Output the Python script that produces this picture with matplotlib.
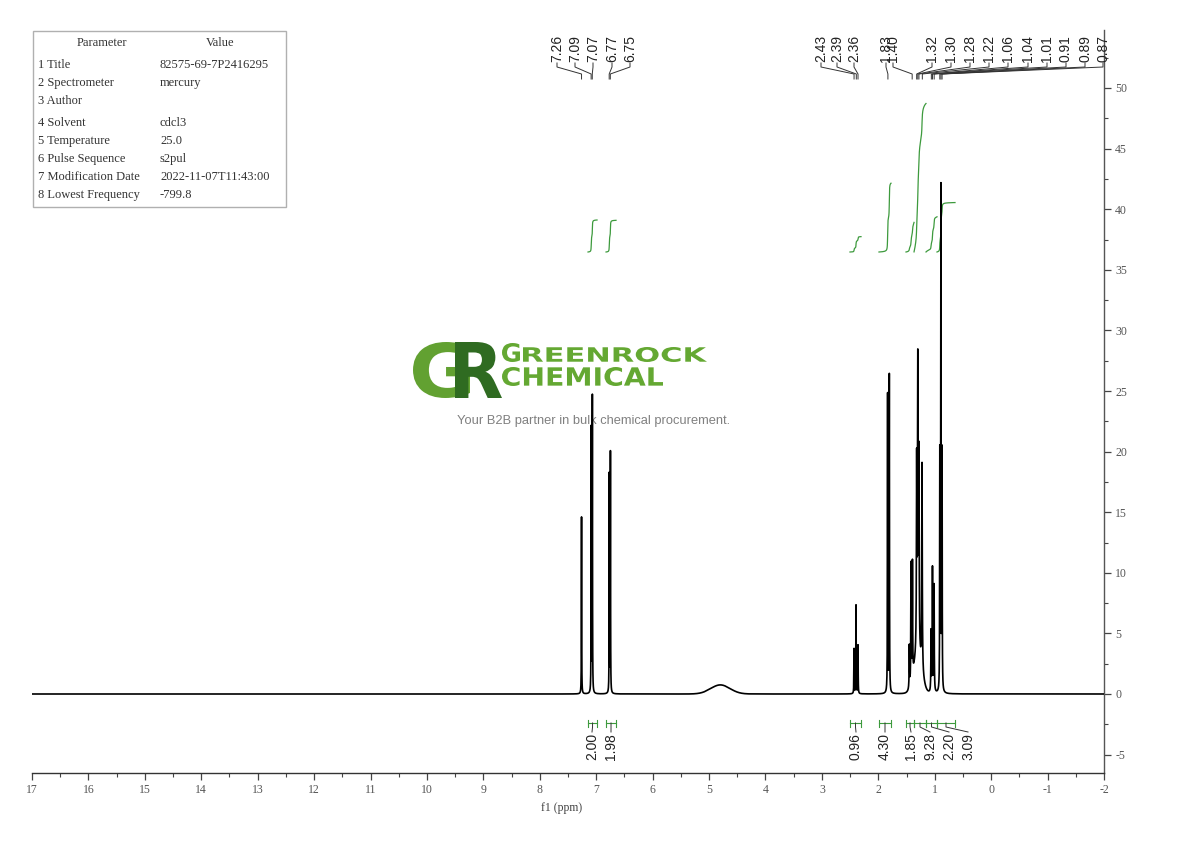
import numpy as np
import matplotlib
matplotlib.use('Agg')
import matplotlib.pyplot as plt
from matplotlib.textpath import TextPath
from matplotlib.patches import PathPatch, Rectangle
from matplotlib.font_manager import FontProperties
from matplotlib.transforms import Affine2D
from matplotlib.ticker import MultipleLocator, FixedLocator

# ---------------- data ----------------
peak_ppm = [7.26, 7.088, 7.068, 6.768, 6.748,
            2.430, 2.395, 2.360,
            1.835, 1.805,
            1.450, 1.420, 1.395,
            1.320, 1.300, 1.280, 1.225,
            1.065, 1.040, 1.012,
            0.910, 0.890, 0.870]
peak_height = [14.6, 21.8, 24.4, 18.0, 19.8,
               3.7, 7.3, 4.0,
               24.6, 26.2,
               3.5, 9.8, 9.4,
               15.5, 23.3, 16.0, 17.0,
               5.0, 10.2, 8.8,
               19.5, 41.3, 19.5]
peak_hwhm = [0.0025, 0.0025, 0.0025, 0.0025, 0.0025,
             0.003, 0.003, 0.003,
             0.003, 0.003,
             0.004, 0.004, 0.004,
             0.005, 0.005, 0.005, 0.005,
             0.004, 0.004, 0.004,
             0.003, 0.003, 0.003]
# broad envelope under the CH2 multiplet and exchangeable hump
broad_ppm = [1.30, 4.80]
broad_height = [3.2, 0.75]
broad_width = [0.07, 0.17]

top_labels = ['7.26', '7.09', '7.07', '6.77', '6.75',
              '2.43', '2.39', '2.36', '1.83', '1.40',
              '1.32', '1.30', '1.28', '1.22', '1.06', '1.04', '1.01',
              '0.91', '0.89', '0.87']
top_label_ppm = [7.26, 7.09, 7.07, 6.77, 6.75,
                 2.43, 2.39, 2.36, 1.83, 1.40,
                 1.32, 1.30, 1.28, 1.22, 1.06, 1.04, 1.01,
                 0.91, 0.89, 0.87]

integral_ranges = [(7.145, 6.985), (6.826, 6.649), (2.502, 2.307), (1.988, 1.775),
                   (1.509, 1.367), (1.367, 1.155), (1.155, 0.960), (0.960, 0.641)]
integral_values = [2.00, 1.98, 0.96, 4.30, 1.85, 9.28, 2.20, 3.09]
integral_labels = ['2.00', '1.98', '0.96', '4.30', '1.85', '9.28', '2.20', '3.09']

param_names = ['1 Title', '2 Spectrometer', '3 Author', '4 Solvent', '5 Temperature',
               '6 Pulse Sequence', '7 Modification Date', '8 Lowest Frequency']
param_values = ['82575-69-7P2416295', 'mercury', '', 'cdcl3', '25.0',
                's2pul', '2022-11-07T11:43:00', '-799.8']

x_ticks = list(range(17, -3, -1))
y_ticks = list(range(-5, 55, 5))

# ---------------- layout ----------------
W, H = 1190, 841
fig = plt.figure(figsize=(W / 100, H / 100), dpi=100)
ax_l, ax_r, ax_t, ax_b = 32, 1104, 30, 773
ax = fig.add_axes([ax_l / W, (H - ax_b) / H, (ax_r - ax_l) / W, (ax_b - ax_t) / H])
ax.set_facecolor('none')
XMAX, XMIN = 17, -2
Y0 = (694 - ax_b) / 12.12
Y1 = (694 - ax_t) / 12.12
ax.set_xlim(XMAX, XMIN)
ax.set_ylim(Y0, Y1)


def px2ppm(px):
    return XMAX - (px - ax_l) * (XMAX - XMIN) / (ax_r - ax_l)


def py2val(py):
    return Y1 - (py - ax_t) * (Y1 - Y0) / (ax_b - ax_t)


# ---------------- spectrum ----------------
ppm = np.linspace(XMIN, XMAX, 38001)
spec = np.zeros_like(ppm)
for c, h, w in zip(peak_ppm, peak_height, peak_hwhm):
    spec += h / (1 + ((ppm - c) / w) ** 2)
for c, h, w in zip(broad_ppm, broad_height, broad_width):
    spec += h * np.exp(-0.5 * ((ppm - c) / w) ** 2)
ax.plot(ppm, spec, color='black', lw=1.2, zorder=3)

# ---------------- integrals ----------------
green = '#3d9a3d'
base = py2val(252)
scale = 16 / 12.12
for (a, b), v in zip(integral_ranges, integral_values):
    m = (ppm <= a) & (ppm >= b)
    sp = ppm[m][::-1]
    cs = np.cumsum(spec[m][::-1])
    cs = cs / cs[-1]
    ax.plot(sp, base + v * scale * cs, color=green, lw=0.9, zorder=2)

label_font = FontProperties(family='Liberation Sans', size=10)

# bottom integral brackets and labels
int_label_px = [592, 611, 856, 885, 911, 930, 949, 968]
for (a, b), lab, lx in zip(integral_ranges, integral_labels, int_label_px):
    yb = py2val(723)
    ax.plot([a, b], [yb, yb], color=green, lw=0.8, clip_on=False)
    for xe in (a, b):
        ax.plot([xe, xe], [py2val(720), py2val(727)], color=green, lw=0.8, clip_on=False)
    xc = (a + b) / 2
    ax.plot([xc, xc, px2ppm(lx)], [yb, py2val(727), py2val(732)], color='#333333',
            lw=0.7, clip_on=False)
    ax.text(px2ppm(lx), py2val(733), lab, rotation=90, ha='center', va='top',
            fontproperties=label_font, color='#222222', clip_on=False)

# top peak labels
top_label_px = [557, 575, 593, 612, 630, 821, 837, 854, 886, 893,
                932, 951, 970, 989, 1008, 1028, 1047, 1066, 1085, 1103]
for lab, pp, lx in zip(top_labels, top_label_ppm, top_label_px):
    xl = px2ppm(lx)
    ax.plot([xl, xl, pp, pp], [py2val(63), py2val(67), py2val(74), py2val(79)],
            color='#333333', lw=0.7, clip_on=False)
    ax.text(xl, py2val(62), lab, rotation=90, ha='center', va='bottom',
            fontproperties=label_font, color='#222222', clip_on=False)

# ---------------- axes styling ----------------
for s in ('left', 'top'):
    ax.spines[s].set_visible(False)
ax.spines['bottom'].set_color('#333333')
ax.spines['right'].set_color('#555555')
ax.spines['bottom'].set_linewidth(1.0)
ax.spines['right'].set_linewidth(1.0)
ax.yaxis.tick_right()
ax.xaxis.set_minor_locator(MultipleLocator(0.5))
ax.yaxis.set_minor_locator(MultipleLocator(2.5))
ax.tick_params(axis='both', which='major', direction='out', length=5, width=0.9,
               color='#444444', labelcolor='#555555', pad=3)
ax.tick_params(axis='both', which='minor', direction='out', length=3, width=0.8,
               color='#444444')
tick_font = FontProperties(family='Liberation Serif', size=8.5)
ax.set_xticks(x_ticks)
ax.set_xticklabels([str(t) for t in x_ticks], fontproperties=tick_font)
ax.set_yticks(y_ticks)
ax.set_yticklabels([str(t) for t in y_ticks], fontproperties=tick_font)
ax.set_xlabel('f1 (ppm)', fontproperties=FontProperties(family='Liberation Serif', size=8.5),
              color='#444444', labelpad=1)
ax.xaxis.set_label_coords(px2ppm(562), py2val(802), transform=ax.transData)

# ---------------- parameter table ----------------
table_font = FontProperties(family='Liberation Serif', size=9)
fig.add_artist(Rectangle((33 / W, 1 - 207 / H), (286 - 33) / W, (207 - 31) / H,
                         transform=fig.transFigure, fill=False, edgecolor='#b0b0b0', lw=1))
fig.text(102 / W, 1 - 43 / H, 'Parameter', ha='center', va='center',
         fontproperties=table_font, color='#333333')
fig.text(220 / W, 1 - 43 / H, 'Value', ha='center', va='center',
         fontproperties=table_font, color='#333333')
row_y = [65, 83, 101, 123, 141, 159, 177, 195]
for ry, nm, val in zip(row_y, param_names, param_values):
    fig.text(38 / W, 1 - ry / H, nm, ha='left', va='center', fontproperties=table_font,
             color='#333333')
    fig.text(160 / W, 1 - ry / H, val, ha='left', va='center', fontproperties=table_font,
             color='#333333')


# ---------------- watermark logo ----------------
def box_text(s, x0, y0, x1, y1, color, family='DejaVu Sans', weight='bold'):
    fp = FontProperties(family=family, weight=weight)
    tp = TextPath((0, 0), s, size=100, prop=fp)
    bb = tp.get_extents()
    tr = (Affine2D().translate(-bb.x0, -bb.y0)
          .scale((x1 - x0) / bb.width, (y1 - y0) / bb.height)
          .translate(x0, H - y1).scale(1 / W, 1 / H) + fig.transFigure)
    p = PathPatch(tp, facecolor=color, edgecolor='none', transform=tr, zorder=0.5,
                  clip_on=False)
    ax.add_artist(p)


box_text('G', 413, 342, 470, 398, '#62a131')
box_text('R', 455, 342, 502, 398, '#2f6b21')
box_text('G', 502, 343, 520, 362, '#64a832')
box_text('REENROCK', 523, 347, 707, 362, '#64a832')
box_text('CHEMICAL', 502, 367, 663, 386, '#64a832')
ax.text(594 / W, 1 - 421 / H, 'Your B2B partner in bulk chemical procurement.',
        transform=fig.transFigure, ha='center', va='center', fontsize=9.3,
        family='Liberation Sans', color='#808080', zorder=0.5)

fig.savefig('out.png', dpi=100, facecolor='white')
